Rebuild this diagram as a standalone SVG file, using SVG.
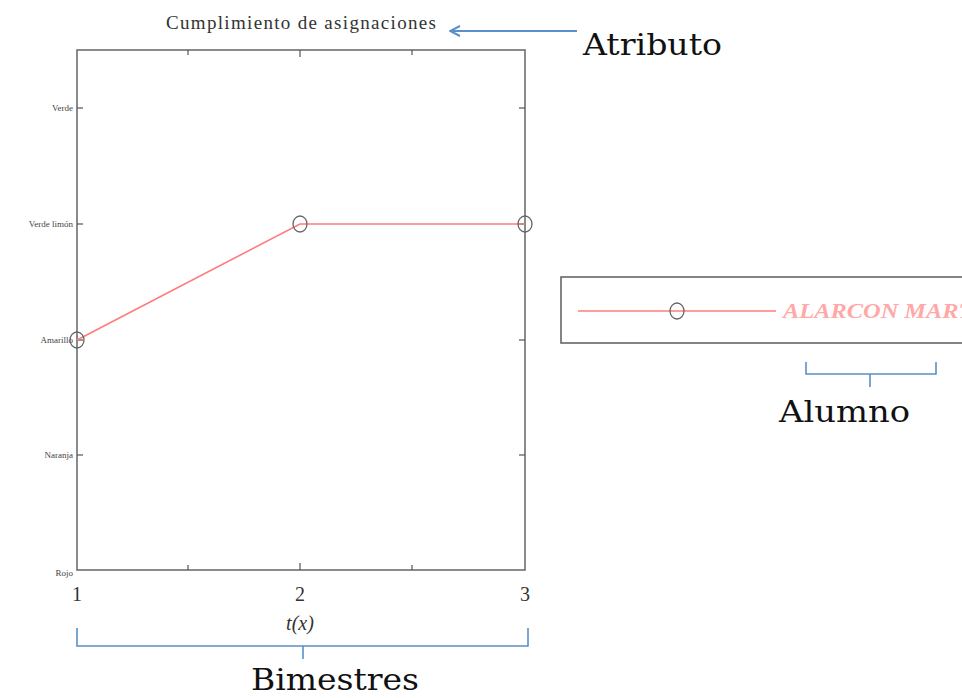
<svg xmlns="http://www.w3.org/2000/svg" width="962" height="698" viewBox="0 0 962 698">
<style>
.ax{fill:none;stroke:#6e6e6e;stroke-width:1.6}
.tk{stroke:#555;stroke-width:1.2}
.data{fill:none;stroke:#ff7b7b;stroke-width:1.6}
.mk{fill:none;stroke:#666;stroke-width:1.3}
.yl{font-family:"Liberation Serif",serif;font-size:9px;fill:#444;text-anchor:end}
.xl{font-family:"Liberation Serif",serif;font-size:20px;fill:#333;text-anchor:middle}
.ann{font-family:"DejaVu Serif","Liberation Serif",serif;font-size:29px;fill:#111}
.br{fill:none;stroke:#5b8fc9;stroke-width:1.6}
</style>
<defs>
<marker id="ah" viewBox="0 0 12 12" refX="11" refY="6" markerWidth="12" markerHeight="12" markerUnits="userSpaceOnUse" orient="auto">
<path d="M1,1 L11,6 L1,11" fill="none" stroke="#5b8fc9" stroke-width="2"/>
</marker>
</defs>
<rect width="962" height="698" fill="#fff"/>
<g id="title">
<text x="301" y="29" font-family="Liberation Serif, serif" font-size="19" fill="#333" text-anchor="middle" textLength="270">Cumplimiento de asignaciones</text>
</g>
<g id="plot">
<rect class="ax" x="77" y="50" width="448" height="520"/>
<g class="tk">
<line x1="77" y1="108" x2="83" y2="108"/><line x1="77" y1="224" x2="83" y2="224"/><line x1="77" y1="340" x2="83" y2="340"/><line x1="77" y1="455" x2="83" y2="455"/>
<line x1="525" y1="108" x2="519" y2="108"/><line x1="525" y1="224" x2="519" y2="224"/><line x1="525" y1="340" x2="519" y2="340"/><line x1="525" y1="455" x2="519" y2="455"/>
<line x1="188" y1="570" x2="188" y2="565"/><line x1="300" y1="570" x2="300" y2="563"/><line x1="412" y1="570" x2="412" y2="565"/>
<line x1="188" y1="50" x2="188" y2="55"/><line x1="300" y1="50" x2="300" y2="57"/><line x1="412" y1="50" x2="412" y2="55"/>
</g>
<text class="yl" x="73" y="111">Verde</text>
<text class="yl" x="73" y="227">Verde limón</text>
<text class="yl" x="73" y="343">Amarillo</text>
<text class="yl" x="73" y="458">Naranja</text>
<text class="yl" x="73" y="576">Rojo</text>
<text class="xl" x="77" y="601">1</text>
<text class="xl" x="300" y="601">2</text>
<text class="xl" x="525" y="601">3</text>
<text x="300" y="630" font-family="Liberation Serif, serif" font-size="20" font-style="italic" fill="#333" text-anchor="middle">t(x)</text>
</g>
<g id="series">
<polyline class="data" points="77,340 300,224 525,224"/>
<ellipse class="mk" cx="77" cy="340" rx="7" ry="8"/>
<ellipse class="mk" cx="300" cy="224" rx="7" ry="8"/>
<ellipse class="mk" cx="525" cy="224" rx="7" ry="8"/>
</g>
<g id="legend">
<rect x="561" y="277" width="410" height="66" fill="#fff" stroke="#666" stroke-width="1.6"/>
<line class="data" x1="578" y1="311" x2="776" y2="311"/>
<ellipse class="mk" cx="677" cy="311" rx="7" ry="8"/>
<text x="783" y="318" font-family="Liberation Serif, serif" font-size="21" font-weight="bold" font-style="italic" fill="#ff9a9a" opacity="0.85" textLength="200" lengthAdjust="spacingAndGlyphs">ALARCON MARTI</text>
</g>
<g id="connectors">
<line x1="577" y1="31" x2="450" y2="31" stroke="#5b8fc9" stroke-width="1.8" marker-end="url(#ah)"/>
<path class="br" d="M806,362 V374 H936 V362 M870,374 V387"/>
<path class="br" d="M77,628 V646 H528 V628 M303,646 V659"/>
</g>
<g id="atributo"><text class="ann" x="583" y="55" textLength="139" lengthAdjust="spacingAndGlyphs">Atributo</text></g>
<g id="alumno"><text class="ann" x="779" y="422" textLength="131" lengthAdjust="spacingAndGlyphs">Alumno</text></g>
<g id="bimestres"><text class="ann" x="251" y="690" textLength="168" lengthAdjust="spacingAndGlyphs">Bimestres</text></g>
</svg>
